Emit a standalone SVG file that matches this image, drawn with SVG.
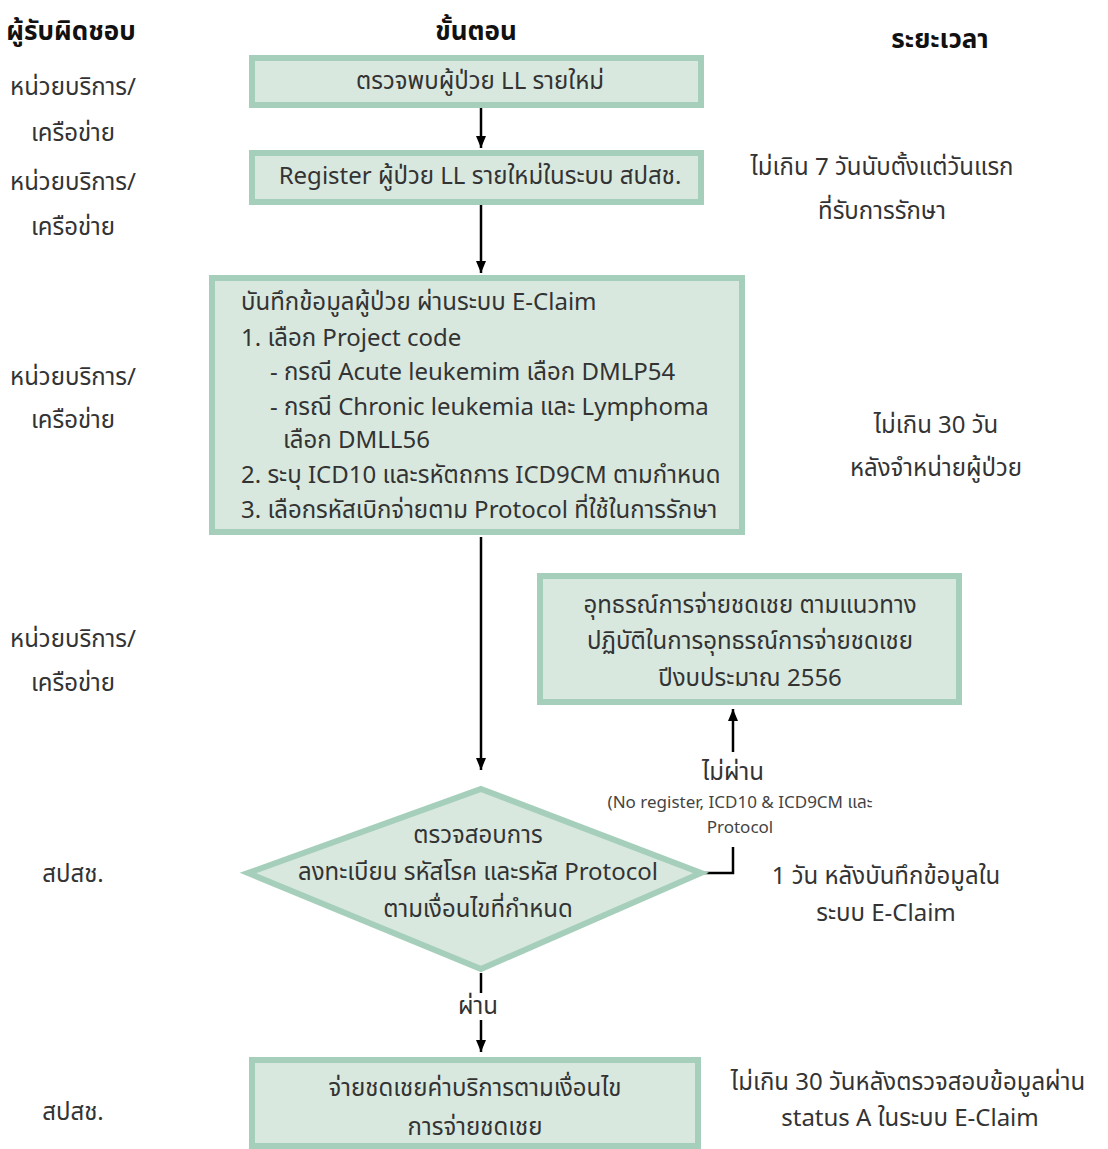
<svg xmlns="http://www.w3.org/2000/svg" width="1108" height="1149" viewBox="0 0 1108 1149">
<style>
text{font-family:"Noto Sans Thai","Noto Sans","DejaVu Sans",sans-serif;font-size:24px;fill:#333;dominant-baseline:central}
.h{font-weight:bold;fill:#111;font-size:26px}
.c{text-anchor:middle}
.s{font-size:17px;fill:#444}
.n{fill:#d8e8df;stroke:#a6cfbb;stroke-width:6}
.e{stroke:#000;stroke-width:2.5;fill:none}
</style>
<defs>
<marker id="d" markerWidth="10" markerHeight="12" refX="5" refY="12" orient="0" markerUnits="userSpaceOnUse" viewBox="0 0 10 12">
<path d="M0,0 L10,0 L5,12 Z" fill="#000"/>
</marker>
<marker id="u" markerWidth="10" markerHeight="12" refX="5" refY="0" orient="0" markerUnits="userSpaceOnUse" viewBox="0 0 10 12">
<path d="M0,12 L10,12 L5,0 Z" fill="#000"/>
</marker>
</defs>
<rect width="1108" height="1149" fill="#fff"/>
<g id="headers">
<text class="h c" x="71" y="32">ผู้รับผิดชอบ</text>
<text class="h c" x="476" y="32">ขั้นตอน</text>
<text class="h c" x="940" y="40">ระยะเวลา</text>
</g>
<g id="responsible">
<text class="c" x="73" y="88">หน่วยบริการ/</text>
<text class="c" x="73" y="134">เครือข่าย</text>
<text class="c" x="73" y="183">หน่วยบริการ/</text>
<text class="c" x="73" y="228">เครือข่าย</text>
<text class="c" x="73" y="378">หน่วยบริการ/</text>
<text class="c" x="73" y="421">เครือข่าย</text>
<text class="c" x="73" y="640">หน่วยบริการ/</text>
<text class="c" x="73" y="684">เครือข่าย</text>
<text class="c" x="73" y="875">สปสช.</text>
<text class="c" x="73" y="1113">สปสช.</text>
</g>
<g id="durations">
<text class="c" x="882" y="168">ไม่เกิน 7 วันนับตั้งแต่วันแรก</text>
<text class="c" x="882" y="212">ที่รับการรักษา</text>
<text class="c" x="936" y="426">ไม่เกิน 30 วัน</text>
<text class="c" x="936" y="469">หลังจำหน่ายผู้ป่วย</text>
<text class="c" x="886" y="877">1 วัน หลังบันทึกข้อมูลใน</text>
<text class="c" x="886" y="914">ระบบ E-Claim</text>
<text class="c" x="908" y="1083">ไม่เกิน 30 วันหลังตรวจสอบข้อมูลผ่าน</text>
<text class="c" x="910" y="1119">status A ในระบบ E-Claim</text>
</g>
<g id="connectors">
<line class="e" x1="481" y1="108" x2="481" y2="148" marker-end="url(#d)"/>
<line class="e" x1="481" y1="205" x2="481" y2="273" marker-end="url(#d)"/>
<line class="e" x1="481" y1="537" x2="481" y2="770" marker-end="url(#d)"/>
<polyline class="e" points="703,873 733,873 733,847"/>
<line class="e" x1="733" y1="752" x2="733" y2="709" marker-end="url(#u)"/>
<line class="e" x1="481" y1="973" x2="481" y2="993"/>
<line class="e" x1="481" y1="1020" x2="481" y2="1052" marker-end="url(#d)"/>
<text class="c" x="733" y="773">ไม่ผ่าน</text>
<text class="c s" x="740" y="803">(No register, ICD10 &amp;  ICD9CM และ</text>
<text class="c s" x="740" y="828">Protocol</text>
<text class="c" x="478" y="1007">ผ่าน</text>
</g>
<g id="n1">
<rect class="n" x="252" y="58" width="449" height="47"/>
<text class="c" x="480" y="82">ตรวจพบผู้ป่วย LL รายใหม่</text>
</g>
<g id="n2">
<rect class="n" x="252" y="153" width="449" height="49"/>
<text class="c" x="480" y="177">Register ผู้ป่วย LL รายใหม่ในระบบ สปสช.</text>
</g>
<g id="n3">
<rect class="n" x="212" y="278" width="530" height="254"/>
<text x="241" y="303">บันทึกข้อมูลผู้ป่วย ผ่านระบบ E-Claim</text>
<text x="241" y="339">1. เลือก Project code</text>
<text x="270" y="373">- กรณี Acute leukemim เลือก DMLP54</text>
<text x="270" y="408">- กรณี Chronic leukemia และ Lymphoma</text>
<text x="283" y="441">เลือก DMLL56</text>
<text x="241" y="476">2. ระบุ ICD10 และรหัตถการ ICD9CM ตามกำหนด</text>
<text x="241" y="511">3. เลือกรหัสเบิกจ่ายตาม Protocol ที่ใช้ในการรักษา</text>
</g>
<g id="n4">
<rect class="n" x="540" y="576" width="419" height="126"/>
<text class="c" x="750" y="606">อุทธรณ์การจ่ายชดเชย ตามแนวทาง</text>
<text class="c" x="750" y="642">ปฏิบัติในการอุทธรณ์การจ่ายชดเชย</text>
<text class="c" x="750" y="679">ปีงบประมาณ 2556</text>
</g>
<g id="n5">
<polygon class="n" points="481,789 701,873 481,969 248,873"/>
<text class="c" x="478" y="836">ตรวจสอบการ</text>
<text class="c" x="478" y="873">ลงทะเบียน รหัสโรค และรหัส Protocol</text>
<text class="c" x="478" y="910">ตามเงื่อนไขที่กำหนด</text>
</g>
<g id="n6">
<rect class="n" x="252" y="1060" width="446" height="86"/>
<text class="c" x="475" y="1089">จ่ายชดเชยค่าบริการตามเงื่อนไข</text>
<text class="c" x="475" y="1128">การจ่ายชดเชย</text>
</g>
</svg>
